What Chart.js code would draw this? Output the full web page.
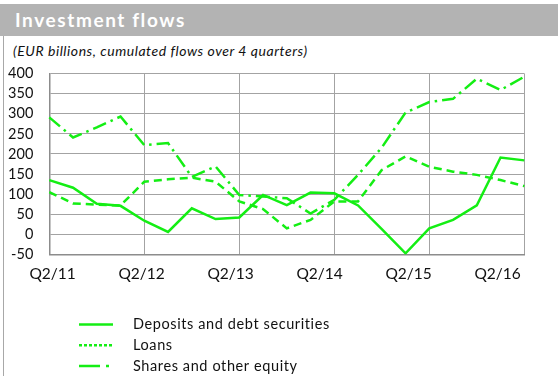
<!DOCTYPE html>
<html>
<head>
<meta charset="utf-8">
<script src="https://cdn.jsdelivr.net/npm/chart.js@4"></script>
<style>
    body { margin: 0; width: 558px; height: 376px; overflow: hidden; background: #fff; position: relative; font-family: Lato, "Open Sans", sans-serif; }
    #header { position: absolute; left: 0; top: 4px; width: 558px; height: 32px; background: #b3b3b3; color: #fff; font-weight: bold; font-size: 19px; letter-spacing: 1.6px; line-height: 32px; text-indent: 15px; }
    #frame { position: absolute; left: 3px; top: 36px; width: 1px; height: 340px; background: #a8a8a8; }
    #sub { position: absolute; left: 13px; top: 42px; font-style: italic; font-size: 14px; letter-spacing: 0.55px; color: #111; }
    #wrap { position: absolute; left: 0; top: 0; width: 558px; height: 376px; }
</style>
</head>
<body>
<div id="header">Investment flows</div>
<div id="frame"></div>
<div id="sub">(EUR billions, cumulated flows over 4 quarters)</div>
<div id="wrap"><canvas id="myChart"></canvas></div>

<script>
// Квартали Q2/11 ... Q2/16
var quarters = [
    'Q2/11', 'Q3/11', 'Q4/11', 'Q1/12',
    'Q2/12', 'Q3/12', 'Q4/12', 'Q1/13',
    'Q2/13', 'Q3/13', 'Q4/13', 'Q1/14',
    'Q2/14', 'Q3/14', 'Q4/14', 'Q1/15',
    'Q2/15', 'Q3/15', 'Q4/15', 'Q1/16',
    'Q2/16'
];
var xTickLabels = ['Q2/11', 'Q2/12', 'Q2/13', 'Q2/14', 'Q2/15', 'Q2/16'];
var yTicks = [-50, 0, 50, 100, 150, 200, 250, 300, 350, 400];

// Ряди даних (млрд євро)
var deposits = [135, 116, 76, 71, 34, 6, 65, 38, 42, 98, 73, 104, 102, 72, 13, -47, 15, 36, 72, 191, 184];
var loans    = [105, 77, 74, 72, 131, 137, 141, 131, 82, 63, 15, 36, 82, 82, 160, 194, 168, 156, 148, 135, 120];
var shares   = [291, 241, 266, 293, 222, 227, 143, 169, 98, 94, 90, 52, 86, 148, 216, 303, 329, 337, 387, 359, 392];

var green = '#14ee14';
var gridColor = '#a3a3a3';
var frameColor = '#8c8c8c';
var fontFamily = 'Lato, "Open Sans", sans-serif';

// Легенда у стовпчик під графіком
var legendPlugin = {
    id: 'columnLegend',
    afterDraw: function (chart, args, opts) {
        const ctx = chart.ctx;
        ctx.save();
        chart.data.datasets.forEach(function (ds, i) {
            const y = opts.top + i * opts.rowGap;
            ctx.beginPath();
            ctx.setLineDash(opts.dashes[i]);
            ctx.lineWidth = 2.5;
            ctx.strokeStyle = ds.borderColor;
            ctx.moveTo(opts.lineX0, y);
            ctx.lineTo(opts.lineX1, y);
            ctx.stroke();
            ctx.setLineDash([]);
            ctx.fillStyle = '#111';
            ctx.font = '14.5px ' + fontFamily;
            ctx.letterSpacing = '0.6px';
            ctx.textBaseline = 'middle';
            ctx.fillText(ds.label, opts.textX, y);
        });
        ctx.restore();
    }
};

window.addEventListener('load', function () {
    const ctx = document.getElementById('myChart').getContext('2d');
    const common = {
        borderColor: green,
        borderWidth: 2.5,
        pointRadius: 0,
        tension: 0,
        fill: false,
        borderJoinStyle: 'miter',
        borderCapStyle: 'butt'
    };
    new Chart(ctx, {
        type: 'line',
        data: {
            labels: quarters,
            datasets: [
                Object.assign({ label: 'Deposits and debt securities', data: deposits }, common),
                Object.assign({ label: 'Loans', data: loans, borderDash: [8, 5] }, common),
                Object.assign({ label: 'Shares and other equity', data: shares, borderDash: [14, 5, 2.5, 5] }, common)
            ]
        },
        plugins: [legendPlugin],
        options: {
            responsive: true,
            maintainAspectRatio: false,
            animation: false,
            layout: { padding: { top: 73.5, right: 33.7, left: 0, bottom: 0 } },
            plugins: {
                legend: { display: false },
                tooltip: { enabled: false },
                columnLegend: {
                    top: 324.5, rowGap: 20.7,
                    lineX0: 79, lineX1: 113, textX: 133,
                    dashes: [[], [3, 2], [21, 6, 3, 10]]
                }
            },
            scales: {
                x: {
                    type: 'category',
                    offset: false,
                    ticks: { display: false },
                    grid: {
                        drawTicks: false,
                        color: (c) => (c.index % 4 === 0 ? gridColor : 'transparent')
                    },
                    border: { color: frameColor, width: 1.5 },
                    afterFit: (axis) => { axis.height = 0; }
                },
                // Окрема вісь лише для підписів кварталів
                x2: {
                    type: 'linear',
                    position: 'bottom',
                    min: -0.148,
                    max: 21.2,
                    grid: { display: false, drawTicks: false },
                    border: { display: false },
                    afterBuildTicks: (axis) => {
                        axis.ticks = xTickLabels.map((_, k) => ({ value: k * 4 }));
                    },
                    ticks: {
                        autoSkip: false,
                        maxRotation: 0,
                        padding: 10.5,
                        color: '#111',
                        font: { family: fontFamily, size: 15.5 },
                        callback: (v) => quarters[v]
                    },
                    afterFit: (axis) => { axis.height = 121.5; }
                },
                y: {
                    min: yTicks[0],
                    max: yTicks[yTicks.length - 1],
                    afterBuildTicks: (axis) => {
                        axis.ticks = yTicks.map((v) => ({ value: v }));
                    },
                    ticks: {
                        autoSkip: false,
                        padding: 16,
                        color: '#111',
                        font: { family: fontFamily, size: 14.5 }
                    },
                    grid: { color: gridColor, drawTicks: false },
                    border: { color: frameColor, width: 1.5 },
                    afterFit: (axis) => { axis.width = 49.3; }
                }
            }
        }
    });
});
</script>
</body>
</html>
